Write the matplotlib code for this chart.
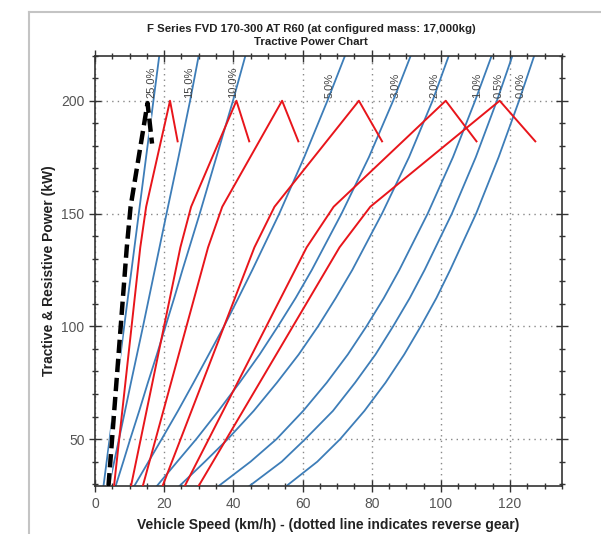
import numpy as np
import matplotlib
matplotlib.use('Agg')
import matplotlib.pyplot as plt
from matplotlib.lines import Line2D
from matplotlib.ticker import MultipleLocator

plt.rcParams['font.family'] = ['Liberation Sans', 'DejaVu Sans']

# resistive power curves: speed (km/h) read at each power level (kW)
power_levels = [29, 40, 50, 62.5, 75, 87.5, 100, 112.5, 125, 150, 175, 200, 220]
grade_labels = ['25.0%', '15.0%', '10.0%', '5.0%', '3.0%', '2.0%', '1.0%', '0.5%', '0.0%']
grade_25 = [2.45, 3.38, 4.23, 5.29, 6.34, 7.4, 8.45, 9.5, 10.57, 12.67, 14.78, 16.9, 18.6]
grade_15 = [4.0, 5.56, 6.95, 8.69, 10.4, 12.15, 13.9, 15.6, 17.3, 20.7, 24.15, 27.5, 30.0]
grade_10 = [5.95, 8.2, 10.2, 12.8, 15.3, 17.9, 20.4, 22.9, 25.3, 30.3, 35.1, 39.9, 43.5]
grade_5 = [11.3, 15.5, 19.3, 24.0, 28.5, 32.9, 37.3, 41.45, 45.5, 53.3, 60.5, 67.2, 72.3]
grade_3 = [17.8, 23.8, 29.3, 35.7, 41.8, 47.6, 52.9, 58.0, 62.7, 71.3, 79.2, 86.2, 91.3]
grade_2 = [24.3, 31.8, 38.4, 45.9, 52.6, 58.9, 64.5, 69.6, 74.4, 83.0, 90.8, 97.6, 102.3]
grade_1 = [35.6, 45.0, 52.5, 60.2, 67.0, 73.1, 78.5, 83.5, 88.0, 96.2, 103.5, 109.9, 114.7]
grade_05 = [44.5, 54.0, 60.8, 68.8, 75.2, 81.1, 86.2, 91.0, 95.3, 103.2, 110.1, 116.2, 120.7]
grade_0 = [55.2, 64.3, 70.9, 77.9, 84.0, 89.4, 94.2, 98.7, 102.7, 110.2, 116.7, 122.6, 127.0]
grade_curves = [grade_25, grade_15, grade_10, grade_5, grade_3, grade_2, grade_1, grade_05, grade_0]

# tractive power per gear: speed (km/h) at each power point (kW)
gear_power = [29, 135, 153, 200, 182]
gear_1 = [5.5, 13.1, 14.8, 21.7, 23.9]
gear_2 = [10.4, 24.7, 27.8, 40.9, 44.6]
gear_3 = [13.8, 32.7, 36.8, 54.1, 58.8]
gear_4 = [19.5, 46.1, 51.9, 76.3, 83.0]
gear_5 = [25.9, 61.2, 69.0, 101.4, 110.3]
gear_6 = [29.9, 70.7, 79.6, 117.0, 127.3]
gears = [gear_1, gear_2, gear_3, gear_4, gear_5, gear_6]

reverse_power = [29, 135, 153, 199, 181]
reverse_speed = [3.9, 9.2, 10.3, 15.2, 16.5]

x_ticks = [0, 20, 40, 60, 80, 100, 120]
y_ticks = [50, 100, 150, 200]

fig = plt.figure(figsize=(6.01, 5.34), dpi=100)
ax = fig.add_axes([0.158, 0.0891, 0.777, 0.8067])

blue = '#3d7db8'
red = '#e8151b'

for speeds in grade_curves:
    ax.plot(speeds, power_levels, color=blue, lw=1.3, zorder=2)

for speeds in gears:
    ax.plot(speeds, gear_power, color=red, lw=1.4, zorder=3)

# reverse gear, thick dashed
ax.plot(reverse_speed, reverse_power, color='white', lw=3.4, zorder=4)
ax.plot(reverse_speed, reverse_power, color='black', lw=3.2, dashes=(3, 1.3), zorder=5)

# grade labels beside each resistive curve
for label, speeds in zip(grade_labels, grade_curves):
    xl = np.interp(207, power_levels, speeds)
    ax.annotate(label, (xl, 201), xytext=(-3, 0), textcoords='offset points',
                rotation=90, ha='center', va='bottom', fontsize=8, color='#444444', zorder=6)

ax.set_xlim(0, 135)
ax.set_ylim(29, 220)
ax.set_xticks(x_ticks)
ax.set_yticks(y_ticks)
ax.xaxis.set_minor_locator(MultipleLocator(5))
ax.yaxis.set_minor_locator(MultipleLocator(10))
ax.tick_params(which='both', direction='inout', top=True, right=True,
               labelsize=10, labelcolor='#555555', color='#333333', width=1)
ax.tick_params(which='major', length=8)
ax.tick_params(which='minor', length=5)
ax.grid(True, which='major', linestyle=(0, (1, 3)), color='#888888', lw=1)
for sp in ax.spines.values():
    sp.set_color('#333333')
    sp.set_linewidth(1.2)

ax.set_xlabel('Vehicle Speed (km/h) - (dotted line indicates reverse gear)',
              fontsize=10, fontweight='bold', color='#222222', labelpad=5)
ax.set_ylabel('Tractive & Resistive Power (kW)', fontsize=10, fontweight='bold',
              color='#222222', labelpad=4)

fig.text(311 / 601, 1 - 29 / 534, 'F Series FVD 170-300 AT R60 (at configured mass: 17,000kg)',
         ha='center', va='center', fontsize=8.2, fontweight='bold', color='#222222')
fig.text(311 / 601, 1 - 42 / 534, 'Tractive Power Chart',
         ha='center', va='center', fontsize=8.2, fontweight='bold', color='#222222')

# window border from the screenshot
fig.add_artist(Line2D([29 / 601, 1], [1 - 12 / 534, 1 - 12 / 534], color='#c4c4c4', lw=1.5,
                      transform=fig.transFigure))
fig.add_artist(Line2D([29 / 601, 29 / 601], [0, 1 - 12 / 534], color='#c4c4c4', lw=1.5,
                      transform=fig.transFigure))

fig.savefig('out.png', dpi=100)
